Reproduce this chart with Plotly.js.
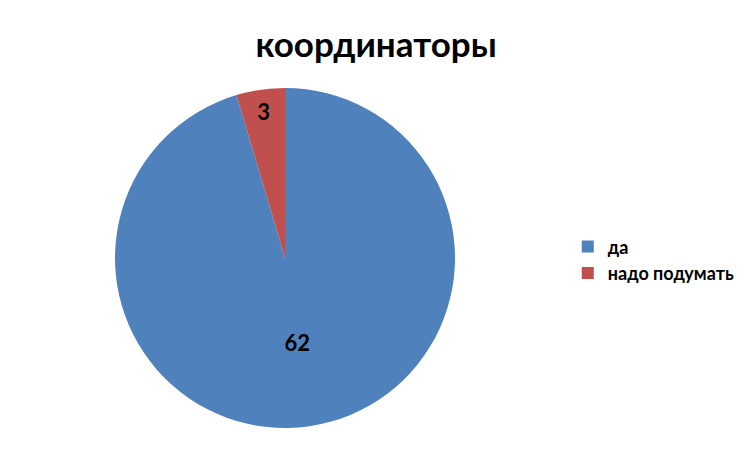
<!DOCTYPE html>
<html><head><meta charset="utf-8">
<script src="https://cdn.plot.ly/plotly-3.0.1.min.js"></script>
<style>body{margin:0;background:#fff}#c{width:752px;height:452px}</style>
</head><body><div id="c"></div>
<script>
const labels = ["да", "надо подумать"];
const values = [62, 3];
const colors = ["#4F81BD", "#C0504D"];
const titleText = "координаторы";

Plotly.newPlot("c", [{
  type: "pie",
  labels: labels,
  values: values,
  sort: false,
  direction: "clockwise",
  rotation: 0,
  marker: {colors: colors, line: {width: 0}},
  textinfo: "value",
  textposition: "inside",
  insidetextorientation: "horizontal",
  textfont: {family: "Lato, 'Open Sans', sans-serif", size: 22, color: "#000", weight: "bold"},
  domain: {x: [0.1529, 0.6051], y: [0.0531, 0.8053]},
  hoverinfo: "none"
}], {
  width: 752, height: 452,
  margin: {l: 0, r: 0, t: 0, b: 0},
  paper_bgcolor: "#fff",
  title: {text: "<b>" + titleText + "</b>", x: 0.5, xanchor: "center", y: 0.9, yanchor: "middle",
          font: {family: "Lato, 'Open Sans', sans-serif", size: 35, color: "#000"}},
  showlegend: true,
  legend: {x: 0.755, y: 0.425, xanchor: "left", yanchor: "middle",
           font: {family: "Lato, 'Open Sans', sans-serif", size: 18, color: "#000", weight: "bold"}}
}, {displayModeBar: false});
</script></body></html>
